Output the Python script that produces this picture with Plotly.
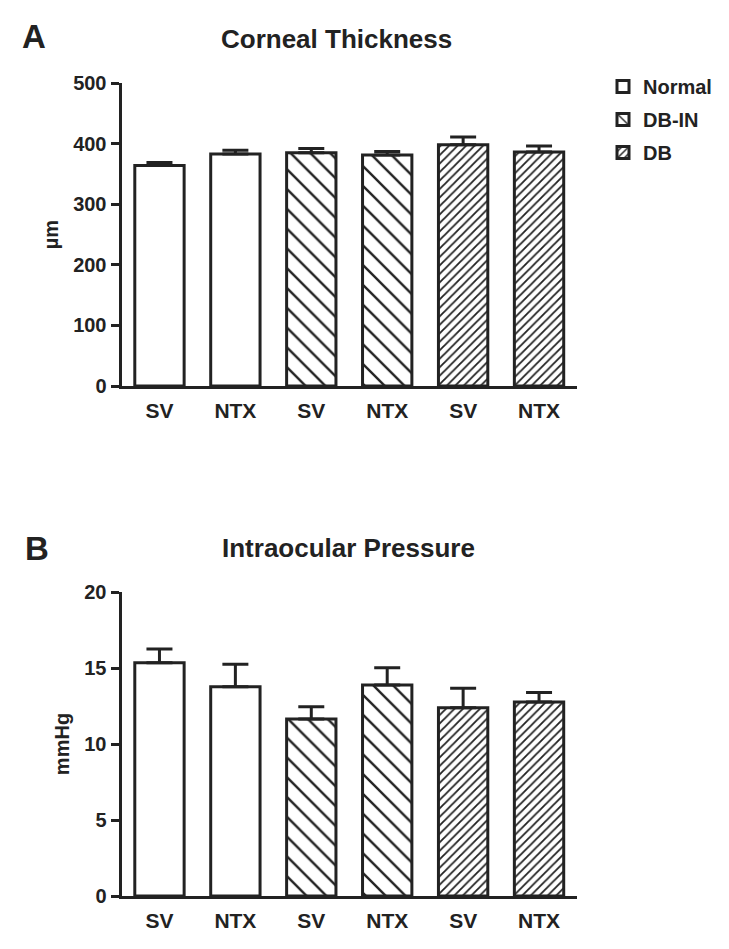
import plotly.graph_objects as go

# ---- data ----
groups = ["Normal", "DB-IN", "DB"]
treatments = ["SV", "NTX"]
tick_labels = ["SV", "NTX", "SV", "NTX", "SV", "NTX"]
thickness_mean = [364, 383, 385, 381, 398, 386]
thickness_sem = [5, 6, 7, 6, 13, 10]
iop_mean = [15.35, 13.77, 11.64, 13.88, 12.39, 12.76]
iop_sem = [0.90, 1.47, 0.81, 1.13, 1.27, 0.62]

# ---- styles ----
W, H = 729, 949
INK = "#222222"
FONT = "Liberation Sans, Arial, sans-serif"
pattern_shape = {"Normal": "", "DB-IN": "\\", "DB": "/"}
pattern_size = {"Normal": 8, "DB-IN": 14, "DB": 6}
pattern_solid = {"Normal": 0.2, "DB-IN": 0.17, "DB": 0.3}


def px(x):
    return x / W


def py(y):
    return 1 - y / H


fig = go.Figure()

panels = [
    ("x", "y", thickness_mean, thickness_sem, True),
    ("x2", "y2", iop_mean, iop_sem, False),
]
for xa, ya, means, sems, show in panels:
    for g, grp in enumerate(groups):
        idx = [g * len(treatments) + t for t in range(len(treatments))]
        fig.add_trace(go.Bar(
            x=idx,
            y=[means[i] for i in idx],
            name=grp,
            legendgroup=grp,
            showlegend=show,
            width=0.65,
            marker=dict(
                color="white",
                line=dict(color=INK, width=3),
                pattern=dict(shape=pattern_shape[grp], size=pattern_size[grp],
                             solidity=pattern_solid[grp], fgcolor=INK,
                             fgopacity=1, bgcolor="white", fillmode="replace"),
            ),
            error_y=dict(type="data", symmetric=False,
                         array=[sems[i] for i in idx],
                         arrayminus=[0 for _ in idx],
                         color=INK, thickness=3, width=13),
            xaxis=xa, yaxis=ya,
        ))

xcommon = dict(range=[-0.5, 5.5], tickvals=list(range(len(tick_labels))),
               ticktext=tick_labels, showline=True, linewidth=3, linecolor=INK,
               ticks="", showgrid=False, zeroline=False,
               tickfont=dict(family=FONT, size=21, color=INK, weight="bold"),
               ticklabelstandoff=4, automargin=False, fixedrange=True)
ycommon = dict(showline=True, linewidth=3, linecolor=INK, ticks="outside",
               ticklen=8, tickwidth=3, tickcolor=INK, showgrid=False,
               zeroline=False, automargin=False,
               tickfont=dict(family=FONT, size=20, color=INK, weight="bold"))


def label(text, x, y, size):
    return dict(text=text, x=px(x), y=py(y), xref="paper", yref="paper",
                xanchor="center", yanchor="middle", showarrow=False,
                font=dict(family=FONT, size=size, color=INK, weight="bold"))


fig.update_layout(
    width=W, height=H,
    margin=dict(l=0, r=0, t=0, b=0),
    paper_bgcolor="white", plot_bgcolor="white",
    barmode="overlay",
    font=dict(family=FONT, color=INK),
    xaxis=dict(domain=[px(121.5), px(577)], anchor="y", **xcommon),
    yaxis=dict(domain=[py(386), py(83)], anchor="x", range=[0, 500],
               tickvals=[0, 100, 200, 300, 400, 500],
               title=dict(text="µm", standoff=10,
                          font=dict(family=FONT, size=20, color=INK, weight="bold")),
               **ycommon),
    xaxis2=dict(domain=[px(121.5), px(577)], anchor="y2", **xcommon),
    yaxis2=dict(domain=[py(896), py(592)], anchor="x2", range=[0, 20],
                tickvals=[0, 5, 10, 15, 20],
                title=dict(text="mmHg", standoff=10,
                           font=dict(family=FONT, size=20, color=INK, weight="bold")),
                **ycommon),
    legend=dict(x=px(603), y=py(67), xanchor="left", yanchor="top",
                font=dict(family=FONT, size=20, color=INK, weight="bold"),
                itemwidth=30, bgcolor="rgba(0,0,0,0)", tracegroupgap=4),
    annotations=[
        label("A", 33.5, 37, 33),
        label("Corneal Thickness", 336.5, 39, 26),
        label("B", 37, 548, 33),
        label("Intraocular Pressure", 348.5, 548, 26),
    ],
)

fig.write_html("out.html", config={"displayModeBar": False},
               post_script="document.body.style.margin='0px';")
